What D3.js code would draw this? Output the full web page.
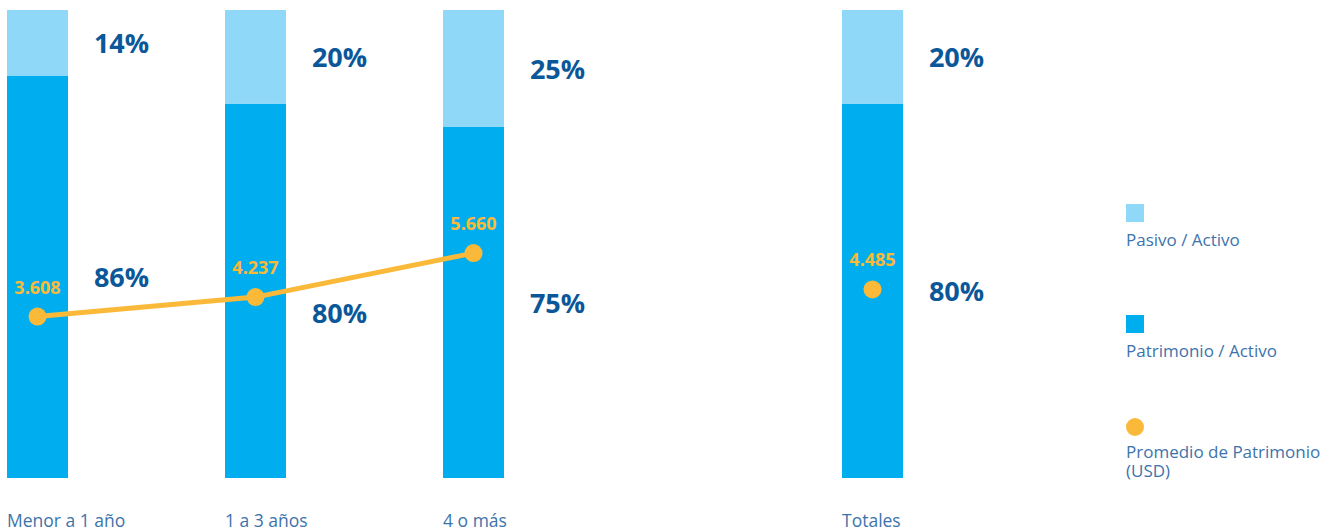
<!DOCTYPE html>
<html>
<head>
<meta charset="utf-8">
<script src="https://cdn.jsdelivr.net/npm/d3@7"></script>
<style>
  body { margin: 0; background: #fff; }
  text { font-family: "Open Sans", "Noto Sans", sans-serif; }
</style>
</head>
<body>
<div id="chart"></div>
<script>
// data
var categories = ["Menor a 1 año", "1 a 3 años", "4 o más", "Totales"];
var pasivo = [14, 20, 25, 20];        // Pasivo / Activo (%)
var patrimonio = [86, 80, 75, 80];    // Patrimonio / Activo (%)
var promedio = [3608, 4237, 5660, 4485]; // Promedio de Patrimonio (USD)
var legendLabels = ["Pasivo / Activo", "Patrimonio / Activo", "Promedio de Patrimonio (USD)"];

var width = 1335;
var height = 531;
var barWidth = 61;

var colLight = "#8fd8f7";
var colDark = "#00aeef";
var colOrange = "#fbb93a";
var colPct = "#0a5799";
var colText = "#3d73ab";

var fmt = d3.formatLocale({ decimal: ",", thousands: ".", grouping: [3], currency: ["$", ""] }).format(",");

var x = d3.scaleOrdinal()
    .domain(categories)
    .range([37.5, 255.5, 473.5, 872.5]);

var y = d3.scaleLinear()
    .domain([0, 100])
    .range([478, 10]);

var yLine = d3.scaleLinear()
    .domain([0, 10000])
    .range([428, 119]);

var svg = d3.select("#chart")
    .append("svg")
    .attr("width", width)
    .attr("height", height);

var rows = categories.map(function(c, i) {
    return { cat: c, pasivo: pasivo[i], patrimonio: patrimonio[i], prom: promedio[i] };
});

// stacked bars: patrimonio at the bottom, pasivo on top
var stack = d3.stack().keys(["patrimonio", "pasivo"]);
var series = stack(rows);
var fills = { patrimonio: colDark, pasivo: colLight };

svg.selectAll("g.layer")
    .data(series)
    .enter().append("g")
    .attr("class", "layer")
    .attr("fill", function(d) { return fills[d.key]; })
    .selectAll("rect")
    .data(function(d) { return d; })
    .enter().append("rect")
    .attr("x", function(d) { return x(d.data.cat) - barWidth / 2; })
    .attr("y", function(d) { return y(d[1]); })
    .attr("width", barWidth)
    .attr("height", function(d) { return y(d[0]) - y(d[1]); });

// line through the first three groups, the total is only a dot
var lineRows = rows.slice(0, 3);
var line = d3.line()
    .x(function(d) { return x(d.cat); })
    .y(function(d) { return yLine(d.prom); });

svg.append("path")
    .datum(lineRows)
    .attr("d", line)
    .attr("fill", "none")
    .attr("stroke", colOrange)
    .attr("stroke-width", 5);

function lineYAt(px) {
    for (var i = 0; i < lineRows.length - 1; i++) {
        var x0 = x(lineRows[i].cat), x1 = x(lineRows[i + 1].cat);
        if (px >= x0 && px <= x1) {
            var t = (px - x0) / (x1 - x0);
            return yLine(lineRows[i].prom) + t * (yLine(lineRows[i + 1].prom) - yLine(lineRows[i].prom));
        }
    }
    return null;
}

// percentage labels to the right of each segment
var pctOffset = 84;
var pctHalfW = 27, gap = 27;
series.forEach(function(s) {
    svg.selectAll(null)
        .data(s)
        .enter().append("text")
        .attr("x", function(d) { return x(d.data.cat) + pctOffset; })
        .attr("y", function(d) {
            var cx = x(d.data.cat) + pctOffset;
            var cy = (y(d[0]) + y(d[1])) / 2;
            // push the label below the line if they cross
            var ly = lineYAt(cx - pctHalfW);
            if (ly !== null && Math.abs(cy - ly) < gap) cy = ly + gap;
            return cy;
        })
        .attr("text-anchor", "middle")
        .attr("dominant-baseline", "central")
        .attr("fill", colPct)
        .style("font-size", "27px")
        .style("font-weight", "700")
        .text(function(d) { return (d[1] - d[0]) + "%"; });
});

// dots and values
svg.selectAll("circle.dot")
    .data(rows)
    .enter().append("circle")
    .attr("class", "dot")
    .attr("cx", function(d) { return x(d.cat); })
    .attr("cy", function(d) { return yLine(d.prom); })
    .attr("r", 9)
    .attr("fill", colOrange);

svg.selectAll("text.val")
    .data(rows)
    .enter().append("text")
    .attr("class", "val")
    .attr("x", function(d) { return x(d.cat); })
    .attr("y", function(d) { return yLine(d.prom) - 30; })
    .attr("text-anchor", "middle")
    .attr("dominant-baseline", "central")
    .attr("fill", colOrange)
    .style("font-size", "18px")
    .style("font-weight", "700")
    .text(function(d) { return fmt(d.prom); });

// category labels
svg.selectAll("text.cat")
    .data(categories)
    .enter().append("text")
    .attr("class", "cat")
    .attr("x", function(d) { return x(d) - barWidth / 2; })
    .attr("y", 527)
    .attr("fill", colText)
    .style("font-size", "17.5px")
    .text(function(d) { return d; });

// legend
var legendY = [213, 324, 435];
var legend = svg.selectAll("g.leg")
    .data(legendLabels)
    .enter().append("g")
    .attr("class", "leg")
    .attr("transform", function(d, i) { return "translate(1126," + legendY[i] + ")"; });

legend.each(function(d, i) {
    var g = d3.select(this);
    if (i < 2) {
        g.append("rect")
            .attr("x", 0).attr("y", -9)
            .attr("width", 18).attr("height", 18)
            .attr("fill", i === 0 ? colLight : colDark);
    } else {
        g.append("circle")
            .attr("cx", 9).attr("cy", -8)
            .attr("r", 9)
            .attr("fill", colOrange);
    }
    var t = g.append("text")
        .attr("x", 0)
        .attr("y", i < 2 ? 33 : 22.7)
        .attr("fill", colText)
        .style("font-size", "17px");
    if (i < 2) {
        t.text(d);
    } else {
        t.append("tspan").attr("x", 0).text("Promedio de Patrimonio");
        t.append("tspan").attr("x", 0).attr("dy", 19.5).text("(USD)");
    }
});
</script>
</body>
</html>
